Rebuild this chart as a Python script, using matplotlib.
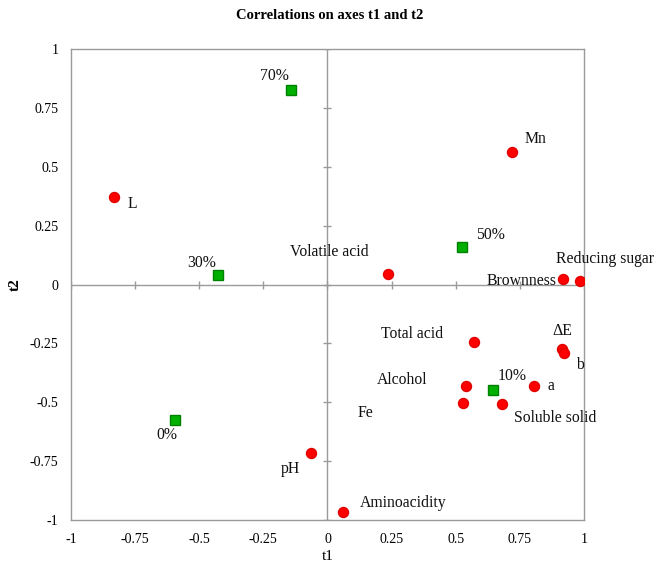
import numpy as np
import matplotlib.pyplot as plt

plt.rcParams['font.family'] = ['Liberation Serif', 'DejaVu Serif']

# variables (red dots)
var_names = ["L", "Mn", "Volatile acid", "Brownness", "Reducing sugar", "Total acid",
             "ΔE", "b", "Alcohol", "a", "Fe", "Soluble solid", "pH", "Aminoacidity"]
var_t1 = [-0.834, 0.720, 0.237, 0.918, 0.986, 0.571,
          0.914, 0.922, 0.539, 0.806, 0.529, 0.679, -0.065, 0.062]
var_t2 = [0.370, 0.561, 0.046, 0.025, 0.015, -0.245,
          -0.274, -0.291, -0.430, -0.430, -0.502, -0.507, -0.714, -0.965]

# observations (green squares)
obs_names = ["0%", "10%", "30%", "50%", "70%"]
obs_t1 = [-0.595, 0.644, -0.427, 0.526, -0.143]
obs_t2 = [-0.575, -0.448, 0.040, 0.158, 0.827]

ticks = [-1, -0.75, -0.5, -0.25, 0, 0.25, 0.5, 0.75, 1]
tick_labels = ["-1", "-0.75", "-0.5", "-0.25", "0", "0.25", "0.5", "0.75", "1"]

# label offsets in pixels (dx, dy up), alignment
var_off = {
    "L": (19, -7, "center"), "Mn": (23, 13, "center"), "Volatile acid": (-59, 22, "center"),
    "Brownness": (-6, -2, "right"), "Reducing sugar": (25, 22, "center"),
    "Total acid": (-62, 8, "center"), "ΔE": (0, 18, "center"), "b": (16, -12, "center"),
    "Alcohol": (-64, 6, "center"), "a": (17, 0, "center"), "Fe": (-98, -10, "center"),
    "Soluble solid": (54, -14, "center"), "pH": (-20, -16, "center"),
    "Aminoacidity": (60, 9, "center"),
}
obs_off = {"0%": (-8, -15), "10%": (19, 14), "30%": (-16, 12), "50%": (28, 12), "70%": (-16, 14)}

fig = plt.figure(figsize=(6.63, 5.68), dpi=100)
ax = fig.add_axes([0.1071, 0.0845, 0.7737, 0.8292])

gray = "#9a9a9a"
ax.axhline(0, color=gray, lw=1, zorder=1)
ax.axvline(0, color=gray, lw=1, zorder=1)
ax.plot(ticks, [0] * len(ticks), ls="none", marker="|", ms=6, color=gray, mew=1, zorder=1)
ax.plot([0] * len(ticks), ticks, ls="none", marker="_", ms=6, color=gray, mew=1, zorder=1)

ax.plot(var_t1, var_t2, ls="none", marker="o", ms=7.2, color="#ff0000", mec="#e00000", zorder=3)
ax.plot(obs_t1, obs_t2, ls="none", marker="s", ms=6.5, color="#00b000", mec="#008000", zorder=3)

for n, x, y in zip(var_names, var_t1, var_t2):
    dx, dy, ha = var_off[n]
    ax.annotate(n, (x, y), xytext=(dx, dy), textcoords="offset pixels",
                ha=ha, va="center", fontsize=11.3, color="#111111")
for n, x, y in zip(obs_names, obs_t1, obs_t2):
    dx, dy = obs_off[n]
    ax.annotate(n, (x, y), xytext=(dx, dy), textcoords="offset pixels",
                ha="center", va="center", fontsize=11.3, color="#111111")

ax.set_xlim(-1, 1)
ax.set_ylim(-1, 1)
ax.set_xticks(ticks)
ax.set_xticklabels(tick_labels)
ax.set_yticks(ticks)
ax.set_yticklabels(tick_labels)
ax.tick_params(length=0, labelsize=10, pad=9)
for s in ax.spines.values():
    s.set_color(gray)
    s.set_linewidth(1)

ax.set_xlabel("t1", fontsize=11, labelpad=3)
ax.set_ylabel("t2", fontsize=11, fontweight="bold", labelpad=6)
fig.text(0.497, 0.972, "Correlations on axes t1 and t2", ha="center", va="center",
         fontsize=10.5, fontweight="bold")

fig.savefig("out.png", dpi=100)
